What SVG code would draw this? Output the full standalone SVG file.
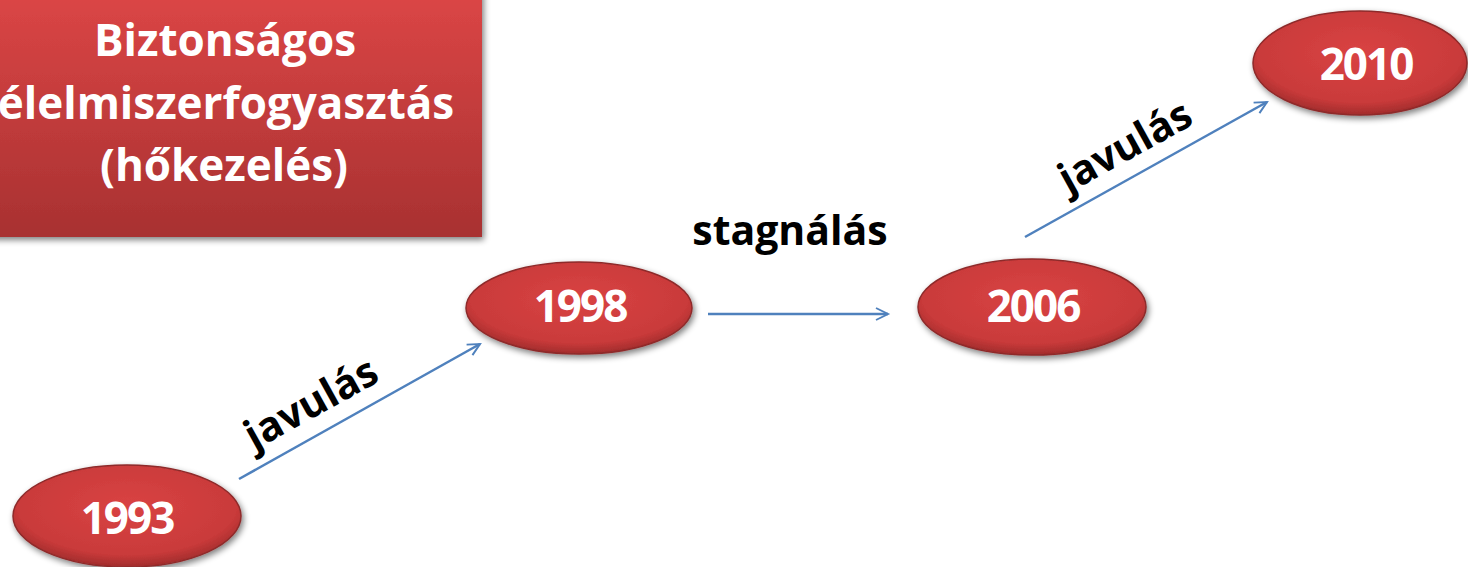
<svg xmlns="http://www.w3.org/2000/svg" width="1468" height="567" viewBox="0 0 1468 567">
<defs>
<linearGradient id="boxg" x1="0" y1="0" x2="0" y2="1">
<stop offset="0" stop-color="#dc4646"/>
<stop offset="1" stop-color="#a83131"/>
</linearGradient>
<radialGradient id="ellg" cx="0.5" cy="0.4" r="0.6">
<stop offset="0" stop-color="#d94343"/>
<stop offset="0.8" stop-color="#c93a3a"/>
<stop offset="1" stop-color="#a12c2c"/>
</radialGradient>
<filter id="sh" x="-10%" y="-10%" width="130%" height="130%">
<feGaussianBlur in="SourceAlpha" stdDeviation="3"/>
<feOffset dx="2" dy="3"/>
<feComponentTransfer><feFuncA type="linear" slope="0.5"/></feComponentTransfer>
<feMerge><feMergeNode/><feMergeNode in="SourceGraphic"/></feMerge>
</filter>
<marker id="arr" viewBox="0 0 20 20" refX="18" refY="10" markerWidth="15" markerHeight="15" markerUnits="userSpaceOnUse" orient="auto" overflow="visible">
<path d="M2,2 L18,10 L2,18" fill="none" stroke="#4f81bd" stroke-width="2.6"/>
</marker>
</defs>
<style>
.ell{fill:url(#ellg);stroke:#8e2a2a;stroke-width:1.5}
.yr{font-family:"Open Sans","Noto Sans",sans-serif;font-weight:bold;font-size:44px;fill:#ffffff;text-anchor:middle;letter-spacing:-2px}
.ttl{font-family:"Open Sans","Noto Sans",sans-serif;font-weight:bold;font-size:44px;fill:#ffffff;text-anchor:middle}
.lbl{font-family:"Open Sans","Noto Sans",sans-serif;font-weight:bold;font-size:41px;fill:#000000;text-anchor:middle}
.con{stroke:#4f81bd;stroke-width:2.5;fill:none;marker-end:url(#arr)}
</style>
<rect width="1468" height="567" fill="#ffffff"/>
<g id="title">
<rect x="-10" y="-10" width="492" height="247" fill="url(#boxg)" filter="url(#sh)"/>
<text class="ttl" x="225" y="56">Biztonságos</text>
<text class="ttl" x="226" y="119">élelmiszerfogyasztás</text>
<text class="ttl" x="224" y="181">(hőkezelés)</text>
</g>
<g id="connectors">
<line class="con" x1="239" y1="479" x2="480" y2="344"/>
<line class="con" x1="708" y1="314" x2="888" y2="314"/>
<line class="con" x1="1025" y1="237" x2="1267" y2="102"/>
<text class="lbl" transform="translate(312,405) rotate(-29)" x="0" y="12">javulás</text>
<text class="lbl" x="790" y="245">stagnálás</text>
<text class="lbl" transform="translate(1126,148) rotate(-29)" x="0" y="12">javulás</text>
</g>
<g id="n1993">
<ellipse class="ell" cx="127" cy="516" rx="114" ry="51" filter="url(#sh)"/>
<text class="yr" x="127" y="534">1993</text>
</g>
<g id="n1998">
<ellipse class="ell" cx="579" cy="308" rx="113" ry="46" filter="url(#sh)"/>
<text class="yr" x="580" y="322">1998</text>
</g>
<g id="n2006">
<ellipse class="ell" cx="1032" cy="307" rx="114" ry="48" filter="url(#sh)"/>
<text class="yr" x="1033" y="322">2006</text>
</g>
<g id="n2010">
<ellipse class="ell" cx="1360" cy="63" rx="107" ry="52" filter="url(#sh)"/>
<text class="yr" x="1366" y="80">2010</text>
</g>
</svg>
